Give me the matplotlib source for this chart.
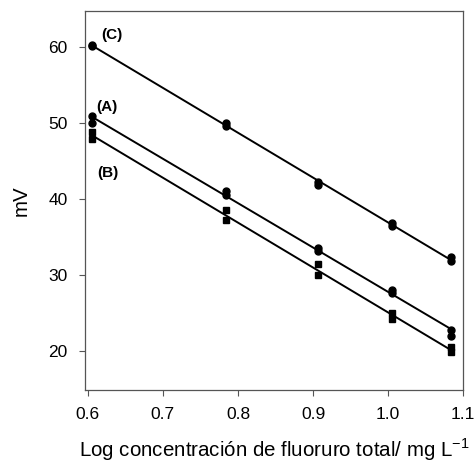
import matplotlib
matplotlib.use("Agg")
import matplotlib.pyplot as plt
import numpy as np

plt.rcParams['font.family'] = ['Liberation Sans', 'DejaVu Sans']

x_levels = [0.606, 0.784, 0.907, 1.005, 1.084]

series_A = [[50.9, 50.0], [41.0, 40.6], [33.5, 33.2], [28.0, 27.6], [22.7, 22.0]]
series_B = [[48.8, 47.9], [38.5, 37.2], [31.4, 30.0], [25.0, 24.2], [20.5, 19.8]]
series_C = [[60.3, 60.2], [50.0, 49.6], [42.2, 41.9], [36.9, 36.4], [32.4, 31.8]]

x_ticks = [0.6, 0.7, 0.8, 0.9, 1.0, 1.1]
x_tick_labels = ["0.6", "0.7", "0.8", "0.9", "1.0", "1.1"]
y_ticks = [20, 30, 40, 50, 60]

fig = plt.figure(figsize=(4.74, 4.63), dpi=100)
ax = fig.add_axes([85/474, 1-390/463, (463.3-85)/474, (390-10.7)/463])

def draw(series, marker, ms):
    xs = np.repeat(x_levels, [len(v) for v in series])
    ys = np.concatenate(series)
    ax.plot(xs, ys, linestyle='none', marker=marker, color='black', ms=ms)
    k, b = np.polyfit(xs, ys, 1)
    xl = np.array([x_levels[0], x_levels[-1]])
    ax.plot(xl, k*xl + b, color='black', lw=1.4)

draw(series_C, 'o', 5)
draw(series_A, 'o', 5)
draw(series_B, 's', 4.5)

ax.text(0.632, 61.6, "(C)", fontweight='bold', fontsize=11, ha='center', va='center')
ax.text(0.625, 52.1, "(A)", fontweight='bold', fontsize=11, ha='center', va='center')
ax.text(0.627, 43.4, "(B)", fontweight='bold', fontsize=11, ha='center', va='center')

ax.set_xlim(0.5964, 1.1)
ax.set_ylim(14.86, 64.8)
ax.set_xticks(x_ticks)
ax.set_xticklabels(x_tick_labels)
ax.set_yticks(y_ticks)
ax.tick_params(direction='out', length=4.5, width=0.8, color='#555555', labelsize=12.5)
ax.tick_params(axis='y', pad=8)
ax.tick_params(axis='x', pad=8)
for s in ax.spines.values():
    s.set_color('#555555')
    s.set_linewidth(0.9)

ax.set_xlabel("Log concentración de fluoruro total/ mg L$^{\\mathregular{-1}}$", fontsize=14.8, labelpad=10)
ax.set_ylabel("mV", fontsize=14.8, labelpad=13)

fig.savefig("out.png", dpi=100)
